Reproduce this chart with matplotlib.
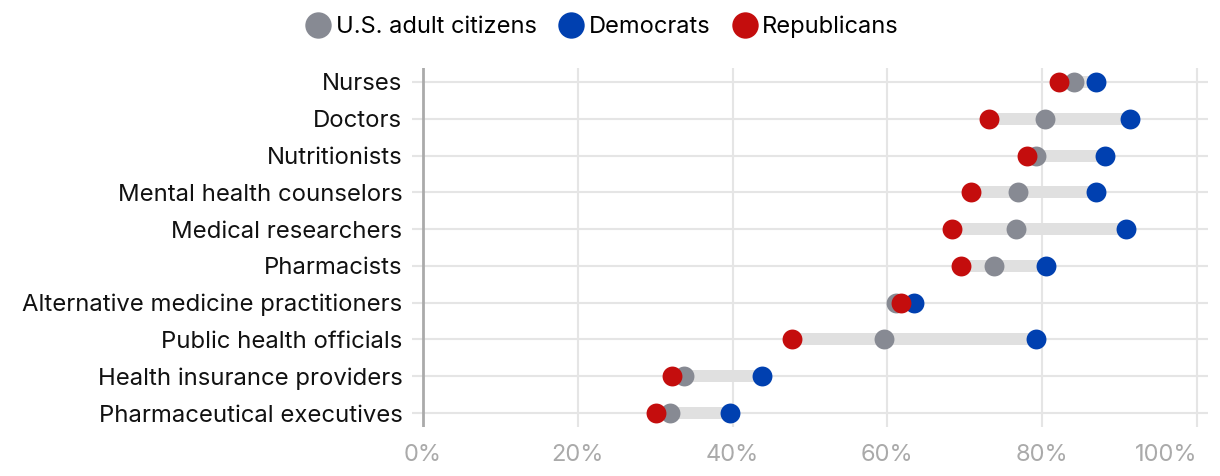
import matplotlib
matplotlib.use("Agg")
import matplotlib.pyplot as plt
from matplotlib.lines import Line2D

plt.rcParams['font.family'] = ['Inter', 'DejaVu Sans']

categories = ["Nurses", "Doctors", "Nutritionists", "Mental health counselors",
              "Medical researchers", "Pharmacists", "Alternative medicine practitioners",
              "Public health officials", "Health insurance providers",
              "Pharmaceutical executives"]
all_adults = [84.1, 80.4, 79.2, 76.9, 76.6, 73.8, 61.1, 59.6, 33.7, 31.9]
democrats = [87.0, 91.3, 88.1, 87.0, 90.8, 80.5, 63.4, 79.2, 43.8, 39.7]
republicans = [82.2, 73.1, 78.0, 70.8, 68.3, 69.5, 61.8, 47.7, 32.2, 30.1]
xticks = [0, 20, 40, 60, 80, 100]
xticklabels = ["0%", "20%", "40%", "60%", "80%", "100%"]

GRAY = "#878a93"
BLUE = "#0040b0"
RED = "#c40d0d"
GRID = "#e5e5e5"

fig = plt.figure(figsize=(12.2, 4.76), dpi=100)
ax = fig.add_axes([412/1220, 49/476, 796/1220, 359/476])
n = len(categories)
ypos = list(range(n))
ax.set_xlim(-1.42, 101.42)
ax.set_ylim(n - 1 + 0.38, -0.38)

for x in xticks[1:]:
    ax.axvline(x, color=GRID, lw=1.5, zorder=0)
for y in ypos:
    ax.axhline(y, color=GRID, lw=1.5, zorder=0)
ax.axvline(0, color="#aaaaaa", lw=2, zorder=1)

for y, a, d, r in zip(ypos, all_adults, democrats, republicans):
    lo, hi = min(a, d, r), max(a, d, r)
    ax.plot([lo, hi], [y, y], color="#e0e0e0", lw=8.6, solid_capstyle='butt', zorder=2)

s = 205
ax.scatter(all_adults, ypos, s=s, color=GRAY, zorder=3, linewidths=0)
ax.scatter(democrats, ypos, s=s, color=BLUE, zorder=4, linewidths=0)
ax.scatter(republicans, ypos, s=s, color=RED, zorder=5, linewidths=0)

for sp in ax.spines.values():
    sp.set_visible(False)
ax.set_yticks(ypos)
ax.set_yticklabels(categories, fontsize=17.2, color="#111111")
ax.tick_params(axis='y', length=0, pad=7)
ax.set_xticks(xticks)
ax.set_xticklabels(xticklabels, fontsize=17, color="#aaaaaa")
ax.tick_params(axis='x', length=0, pad=12)
lbls = ax.get_xticklabels()
lbls[-1].set_horizontalalignment('right')

handles = [Line2D([], [], marker='o', ls='', color=c, markersize=19, markeredgewidth=0)
           for c in (GRAY, BLUE, RED)]
fig.legend(handles, ["U.S. adult citizens", "Democrats", "Republicans"],
           loc='center', bbox_to_anchor=(0.492, 1 - 27/476), ncol=3, frameon=False,
           fontsize=17, handletextpad=0.05, columnspacing=0.75, handlelength=1.4)

fig.savefig("out.png", dpi=100)
